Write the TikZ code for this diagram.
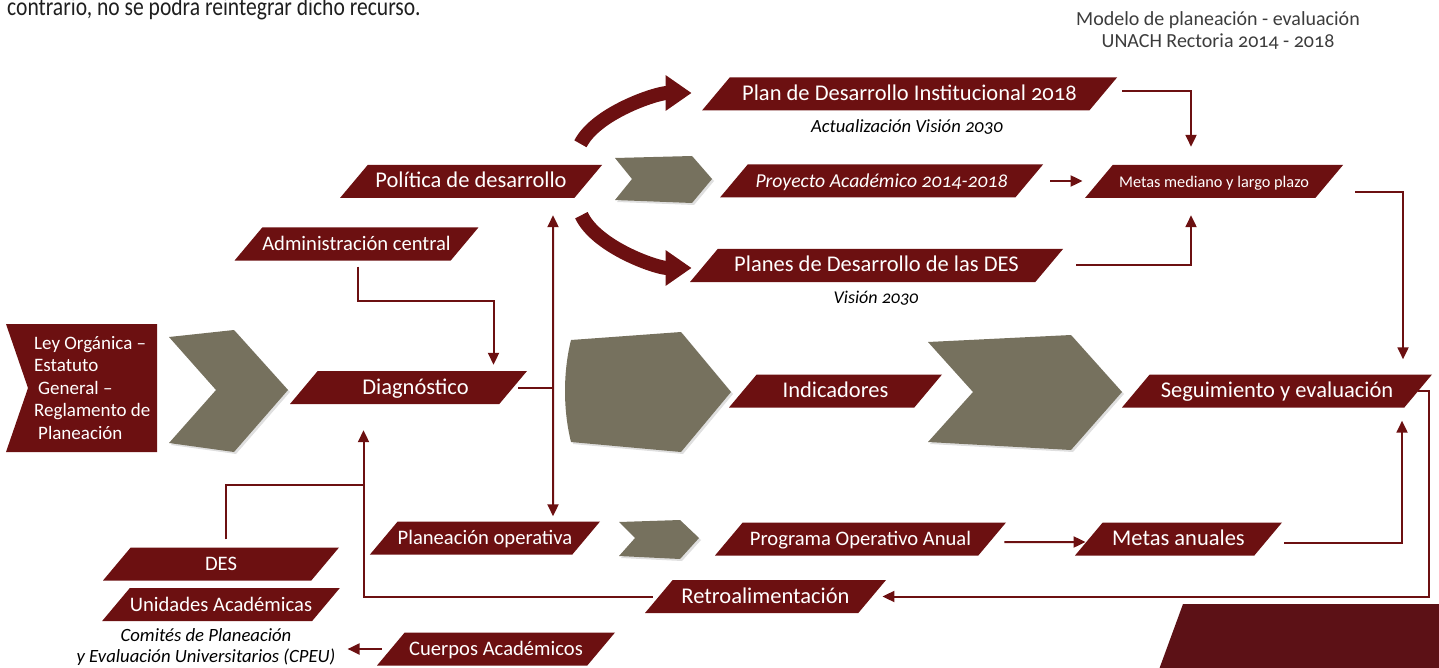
\documentclass[tikz,border=0pt]{standalone}
\usepackage{fontspec}
\setmainfont{Carlito}[Numbers=OldStyle]
\usepackage{graphicx}
\usetikzlibrary{calc,positioning,shapes.geometric,arrows.meta,shadows}
\definecolor{unachred}{RGB}{108,16,17}
\definecolor{unachdark}{RGB}{92,17,22}
\definecolor{chevgray}{RGB}{118,113,94}
\definecolor{titlegray}{RGB}{60,60,60}
\newcommand\fsz[2]{\fontsize{#1}{#2}\selectfont}
\tikzset{
	blk/.style={trapezium, trapezium left angle=50, trapezium right angle=130, trapezium stretches body,
		fill=unachred, text=white, inner xsep=0pt, inner ysep=8pt, minimum height=33pt, text height=15pt, text depth=2pt},
	big/.style={font=\fsz{22.5}{26}},
	mid/.style={font=\fsz{20.6}{24}},
	wire/.style={draw=unachred, line width=2pt},
	conn/.style={wire, -{Triangle[length=12pt,width=11pt]}},
	conn2/.style={wire, {Triangle[length=12pt,width=11pt]}-{Triangle[length=12pt,width=11pt]}},
	bigarrow/.style={draw=unachred, line width=14pt, -{Triangle[length=26pt,width=34pt]}},
	chev/.style={fill=chevgray, drop shadow={shadow xshift=2pt, shadow yshift=-2pt, opacity=0.25}}
}

\begin{document}
\begin{tikzpicture}[x=1pt,y=-1pt]
			%%%%% START %%%%%
			\useasboundingbox (0,0) rectangle (1439,668);
			
			\node[anchor=base west, inner sep=0pt, text=black!88, font=\fsz{26}{30}] (recorte) at (7,15.5) {\scalebox{0.83}[1]{contrario, no se podra reintegrar dicho recurso.}};
			\node[align=center, inner sep=0pt, text=titlegray, font=\fsz{20}{22}] (titulo) at (1218,31) {Modelo de planeación - evaluación\\UNACH Rectoria 2014 - 2018};
			
			\fill[unachred] (6,324) -- (157,324) -- (157,452) -- (6,452) -- (28,388) -- cycle;
			\node[anchor=west, align=left, inner sep=0pt, text=white, font=\fsz{19}{22.5}] (ley) at (34,388) {Ley Orgánica –\\Estatuto\\\hspace{4pt}General –\\Reglamento de\\\hspace{4pt}Planeación};
			
			\fill[chev] (169,337) -- (234,330) -- (288,390) -- (234,452) -- (169,443) -- (216,390) -- cycle;
			\fill[chev] (571,340) -- (681,332) -- (731,392) -- (681,452) -- (571,442) .. controls (563,410) and (563,372) .. cycle;
			\fill[chev] (928,342) -- (1071,335) -- (1122,392) -- (1071,450) -- (928,442) -- (973,392) -- cycle;
			\fill[chev] (615,158) -- (692,156) -- (712,179) -- (692,203) -- (615,200) -- (632,179) -- cycle;
			\fill[chev] (619,522) -- (680,520) -- (699,538) -- (680,559) -- (619,556) -- (635,538) -- cycle;
			
			\fill[unachdark] (1183,604) -- (1445,604) -- (1445,675) -- (1157,675) -- cycle;
			
			\node[blk, big, minimum width=262pt] (pol) at (471,181.5) {Política de desarrollo};
			\node[blk, mid, minimum width=237pt] (adm) at (356.5,244) {Administración central};
			\node[blk, big, minimum width=237pt] (diag) at (408.5,387.5) {\hspace{14pt}Diagnóstico};
			\node[blk, big, minimum width=415pt] (pdi) at (909.5,94) {Plan de Desarrollo Institucional 2018};
			\node[blk, font=\fsz{19.7}{24}\itshape, minimum width=323pt] (pa) at (881.5,181) {Proyecto Académico 2014-2018};
			\node[blk, big, minimum width=373pt] (pdes) at (876.5,265.5) {Planes de Desarrollo de las DES};
			\node[blk, font=\fsz{16.3}{20}, minimum width=258pt] (mml) at (1214,181.5) {Metas mediano y largo plazo};
			\node[blk, big, minimum width=213pt] (ind) at (835.5,391) {Indicadores};
			\node[blk, big, minimum width=310pt] (seg) at (1277,391) {Seguimiento y evaluación};
			\node[blk, mid, minimum width=216pt] (pop) at (485,538) {Planeación operativa};
			\node[blk, mid, minimum width=291pt] (poa) at (860.5,539) {Programa Operativo Anual};
			\node[blk, big, minimum width=207pt] (man) at (1178.5,539) {Metas anuales};
			\node[blk, big, minimum width=241pt] (retro) at (765.5,596.5) {Retroalimentación};
			\node[blk, mid, minimum width=236pt] (des) at (221,564) {DES};
			\node[blk, mid, minimum width=236pt] (ua) at (221,604.5) {Unidades Académicas};
			\node[blk, mid, minimum width=238pt] (ca) at (496,649) {Cuerpos Académicos};
			
			\node[inner sep=0pt, font=\fsz{18.6}{22}\itshape] (pdisub) at (907,127) {Actualización Visión 2030};
			\node[inner sep=0pt, font=\fsz{18}{22}\itshape] (pdessub) at (876,298) {Visión 2030};
			\node[align=center, inner sep=0pt, font=\fsz{18.7}{21}\itshape] (cpeu) at (206,647.5) {Comités de Planeación\\y Evaluación Universitarios (CPEU)};
			
			\draw[bigarrow] ([xshift=-22pt,yshift=21pt]pol.top right corner) .. controls +(16,-31) and +(-35,0) .. ([xshift=-24pt,yshift=1pt]pdi.west);
			\draw[bigarrow] ([xshift=7pt,yshift=-17pt]pol.bottom right corner) .. controls +(15,32) and +(-35,0) .. ([xshift=-12pt,yshift=-2.5pt]pdes.west);
			
			\draw[conn] ([xshift=19pt,yshift=3pt]pdi.east) -| ([xshift=-23pt,yshift=18pt]mml.north);
			\draw[conn] ([xshift=21pt]pa.east) -- ($(pa.east -| mml.west)+(-16,0)$);
			\draw[conn] ([xshift=27pt]pdes.east) -| ([xshift=-23pt,yshift=-17pt]mml.south);
			\draw[conn] ([xshift=26pt,yshift=-11pt]mml.east) -| ([xshift=126pt,yshift=15pt]seg.north);
			\draw[conn] ([xshift=16pt,yshift=-3.5pt]man.east) -| ([xshift=125pt,yshift=-13pt]seg.south);
			\draw[conn] (seg.east) -- ++(11,0) |- ([xshift=10pt]retro.east);
			\draw[conn] ([xshift=-6pt]retro.west) -| ([xshift=-45pt,yshift=-26pt]diag.south);
			\draw[wire] ([xshift=5pt,yshift=8pt]des.north) |- ([xshift=-45pt,yshift=-81pt]diag.south);
			\draw[conn] ([xshift=1.5pt,yshift=-6pt]adm.south) -- ++(0,34) -| ([xshift=85pt,yshift=6pt]diag.north);
			
			\coordinate (vtop) at ([xshift=82pt,yshift=-17pt]pol.south);
			\coordinate (vbot) at ([xshift=68pt,yshift=5pt]pop.north);
			\draw[conn2] (vtop) -- (vbot);
			\draw[wire] ([xshift=5pt]diag.east) -- (diag.east -| vtop);
			
			\draw[conn] ([xshift=12pt,yshift=-3pt]poa.east) -- ([xshift=-3pt,yshift=-3pt]man.west);
			\draw[conn] ([xshift=-9pt]ca.west) -- ($(ca.west -| cpeu.east)+(12,0)$);
			
			%%%%% END %%%%%
\end{tikzpicture}
\end{document}
